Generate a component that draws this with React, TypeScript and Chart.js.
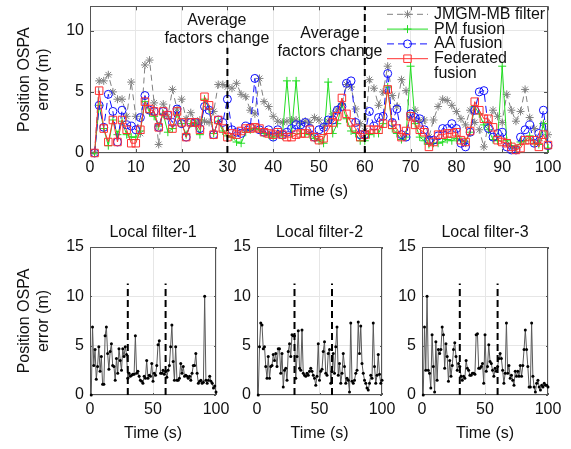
import React, { useEffect, useRef } from 'react';
import { Chart, registerables } from 'chart.js';
import { drawPoint } from 'chart.js/helpers';

Chart.register(...registerables);

// ---------------- data ----------------
const jmgm = [
  0, 5.9, 5.9, 6.4, 5.0, 4.4, 4.4, 3.0, 5.8, 3.0,
  1.6, 7.2, 7.6, 4.1, 0.7, 4.0, 3.0, 5.2, 3.6, 4.4,
  2.8, 3.3, 2.5, 2.7, 2.6, 2.5, 3.4, 5.6, 5.6, 5.4,
  5.3, 5.7, 4.8, 4.6, 3.5, 3.2, 6.1, 4.2, 3.8, 3.0,
  2.6, 2.5, 2.6, 2.7, 2.7, 2.4, 2.6, 2.5, 2.9, 2.7,
  2.2, 2.6, 3.2, 3.6, 4.0, 5.6, 5.4, 3.6, 2.4, 1.8,
  6.0, 5.3, 3.9, 5.0, 7.1, 4.7, 3.8, 6.0, 5.1, 3.0,
  3.5, 2.6, 2.7, 1.3, 2.7, 3.8, 4.4, 4.3, 3.9, 3.4,
  2.8, 2.3, 3.5, 2.5, 1.9, 0.5, 2.4, 3.5, 3.0, 2.5,
  4.8, 3.5, 2.6, 3.4, 5.2, 2.9, 2.0, 1.0, 2.4, 1.5,
];
const pmFusion = [
  0, 3.9, 2.0, 0.6, 2.7, 1.5, 2.6, 1.5, 1.3, 1.3,
  1.8, 4.2, 3.3, 3.0, 2.2, 3.2, 1.7, 2.0, 3.2, 2.4,
  1.5, 2.4, 2.4, 1.5, 4.4, 3.6, 1.6, 2.6, 1.8, 1.4,
  1.3, 0.9, 0.8, 1.7, 1.9, 2.0, 1.9, 1.6, 1.5, 1.3,
  1.6, 1.4, 5.9, 1.6, 5.9, 1.6, 1.6, 1.5, 1.2, 1.0,
  0.8, 5.8, 1.6, 2.4, 4.0, 2.8, 1.8, 1.6, 1.0, 1.0,
  1.5, 1.6, 1.6, 2.4, 5.4, 2.0, 1.6, 1.1, 1.3, 7.1,
  2.4, 1.3, 1.0, 0.7, 0.8, 0.8, 0.9, 1.1, 1.0, 1.2,
  1.0, 0.9, 1.7, 3.8, 3.2, 2.3, 1.9, 1.1, 1.0, 7.1,
  1.0, 0.6, 0.4, 0.9, 1.0, 1.4, 0.8, 0.7, 2.4, 0.4,
];
const aaFusion = [
  0, 3.9, 2.1, 4.8, 3.4, 0.9, 3.5, 2.3, 2.2, 1.9,
  2.9, 4.7, 3.5, 3.4, 2.1, 3.4, 3.1, 2.5, 3.6, 2.4,
  1.3, 2.5, 2.5, 2.0, 3.8, 3.5, 1.5, 2.7, 2.5, 4.4,
  1.9, 1.7, 1.6, 2.2, 2.1, 6.1, 1.9, 1.7, 1.9, 1.3,
  1.9, 1.5, 1.7, 2.0, 2.3, 2.3, 2.5, 2.0, 1.3, 1.9,
  2.1, 2.7, 2.7, 3.5, 3.8, 5.7, 5.9, 2.5, 1.5, 1.5,
  3.4, 2.2, 2.9, 3.0, 6.5, 2.5, 3.6, 1.5, 1.3, 3.2,
  2.9, 2.8, 1.9, 1.05, 1.05, 1.4, 2.0, 2.0, 2.4, 2.0,
  0.8, 0.5, 1.7, 3.5, 5.0, 5.1, 2.0, 1.3, 1.6, 1.7,
  0.5, 0.25, 0.25, 1.3, 1.9, 2.3, 0.8, 1.6, 3.5, 0.6,
];
const fedFusion = [
  0, 5.1, 2.0, 0.9, 2.7, 0.9, 2.7, 1.9, 0.8, 0.8,
  1.9, 4.2, 3.6, 3.4, 2.1, 3.4, 3.1, 2.0, 3.4, 2.5,
  1.3, 2.5, 2.5, 1.9, 4.6, 3.9, 1.5, 2.7, 2.0, 1.3,
  1.6, 1.5, 1.8, 2.0, 2.0, 2.1, 2.0, 1.7, 1.6, 1.5,
  1.7, 1.5, 1.3, 1.3, 1.5, 1.6, 1.6, 1.9, 1.3, 1.05,
  1.2, 1.9, 2.5, 3.0, 4.5, 3.2, 2.5, 2.0, 1.3, 1.5,
  1.9, 1.9, 1.9, 2.4, 5.2, 2.3, 2.0, 1.3, 1.8, 3.0,
  2.3, 1.9, 1.7, 0.5, 0.9, 1.5, 1.5, 1.6, 1.6, 1.7,
  1.05, 0.9, 1.8, 4.2, 3.5, 2.8, 2.8, 2.1, 1.05, 0.9,
  0.8, 0.5, 0.25, 0.4, 1.05, 1.05, 1.05, 0.5, 1.5, 0.65,
];
const local1 = [
  0, 6.9, 3.0, 4.6, 1.6, 2.9, 4.9, 2.4, 3.9, 1.1,
  1.1, 6.0, 6.9, 4.2, 2.6, 4.4, 5.2, 3.0, 2.9, 1.5,
  3.7, 2.2, 4.7, 3.5, 2.5, 4.7, 3.9, 4.9, 4.1, 1.7,
  2.2, 1.9, 2.0, 2.1, 2.1, 6.0, 2.2, 2.4, 1.9, 1.5,
  1.4, 1.2, 1.9, 1.7, 3.5, 1.7, 2.0, 1.9, 3.2, 1.4,
  2.2, 2.0, 3.0, 5.1, 5.5, 2.2, 2.2, 2.5, 2.1, 2.4,
  1.8, 2.5, 3.0, 4.9, 7.1, 3.4, 1.5, 4.9, 1.5, 1.5,
  1.7, 3.2, 2.2, 2.9, 1.9, 2.0, 1.9, 1.7, 1.9, 1.5,
  2.2, 3.0, 3.0, 4.2, 2.2, 1.2, 1.4, 1.5, 1.2, 1.3,
  10.0, 1.5, 1.2, 1.5, 1.9, 1.4, 1.2, 0.7, 0.9, 0.3,
];
const local2 = [
  0, 4.9, 7.3, 7.1, 4.7, 4.9, 2.9, 1.7, 3.9, 1.7,
  2.9, 3.0, 4.1, 3.5, 4.2, 2.9, 4.7, 4.7, 2.2, 4.2,
  0.8, 2.5, 2.7, 1.5, 4.4, 5.2, 3.9, 6.1, 6.0, 6.0,
  1.7, 3.9, 6.5, 2.7, 2.5, 6.6, 2.2, 2.0, 1.9, 2.2,
  2.0, 2.4, 2.7, 2.4, 2.0, 1.7, 1.0, 1.9, 5.2, 1.5,
  2.4, 2.6, 4.4, 5.4, 2.2, 2.0, 4.2, 4.6, 1.2, 2.4,
  4.2, 2.2, 4.9, 6.9, 2.0, 3.2, 1.2, 2.2, 4.2, 2.9,
  1.2, 1.7, 1.5, 0.3, 7.3, 1.4, 1.2, 1.5, 2.2, 2.5,
  7.4, 4.2, 7.0, 3.2, 2.2, 1.5, 1.2, 0.7, 0.5, 1.2,
  2.0, 1.7, 7.3, 2.9, 1.2, 2.0, 4.1, 2.1, 1.2, 1.5,
];
const local3 = [
  0, 6.9, 2.5, 10.0, 2.5, 2.2, 0.7, 6.1, 2.9, 0.3,
  5.4, 1.5, 4.6, 4.2, 4.6, 6.9, 6.1, 2.7, 5.2, 3.9,
  1.4, 3.5, 1.9, 3.0, 4.6, 5.3, 3.9, 2.5, 3.2, 2.9,
  1.9, 1.5, 1.9, 1.7, 3.5, 2.7, 2.5, 2.0, 2.0, 2.2,
  2.2, 2.1, 6.1, 6.2, 2.7, 2.7, 2.9, 3.2, 1.2, 6.1,
  2.4, 2.9, 5.1, 3.4, 3.2, 2.5, 1.9, 2.7, 2.4, 2.9,
  3.7, 4.2, 3.7, 2.5, 1.2, 2.2, 7.3, 2.2, 3.0, 1.7,
  2.0, 1.5, 1.0, 2.4, 1.9, 2.4, 1.9, 3.0, 1.9, 3.0,
  4.6, 6.6, 4.6, 2.9, 0.8, 0.8, 7.3, 1.9, 0.8, 0.3,
  1.2, 1.5, 0.8, 0.5, 1.0, 0.8, 1.2, 1.0, 1.0, 0.8,
];
const localSeries = [local1, local2, local3];

const topXTicks = [0, 10, 20, 30, 40, 50, 60, 70, 80, 90, 100];
const topYTicks = [0, 5, 10];
const localXTicks = [0, 50, 100];
const localYTicks = [0, 5, 10, 15];
const changeTimes = [30, 60];
const topChangeTops = [8.6, 12];
const localChangeTop = 11.3;

const legendLabels = [['JMGM-MB filter'], ['PM fusion'], ['AA fusion'], ['Federated', 'fusion']];
const annotationLines = ['Average', 'factors change'];
const localTitles = ['Local filter-1', 'Local filter-2', 'Local filter-3'];
const yTitle = ['Position OSPA', 'error (m)'];
const xTitle = 'Time (s)';

// ---------------- styling ----------------
const FONT_FAMILY = '"Liberation Sans", Arial, Helvetica, sans-serif';
const font16 = { family: FONT_FAMILY, size: 16, lineHeight: 1.2, weight: 'normal' };
const GRID = '#e6e6e6';
const TEXT = '#111111';
const BOX = '#555555';

const fixedTicks = (values: number[]) => (scale: any) => {
  scale.ticks = values.map((v) => ({ value: v }));
};
const pts = (arr: number[]) => arr.map((v, i) => ({ x: i + 1, y: v }));

const boxPlugin = {
  id: 'mbox',
  beforeDatasetsDraw(chart: any, _a: any, opts: any) {
    const { ctx, chartArea } = chart;
    const { left, right, top, bottom } = chartArea;
    const xs = chart.scales.x;
    const ys = chart.scales.y;
    const len = opts.tickLen || 3;
    ctx.save();
    ctx.strokeStyle = BOX;
    ctx.lineWidth = 1;
    ctx.setLineDash([]);
    ctx.strokeRect(Math.round(left) + 0.5, Math.round(top) + 0.5, Math.round(right - left) - 1, Math.round(bottom - top) - 1);
    ctx.beginPath();
    xs.ticks.forEach((t: any) => {
      const px = Math.round(xs.getPixelForValue(t.value)) + 0.5;
      ctx.moveTo(px, bottom);
      ctx.lineTo(px, bottom - len);
      ctx.moveTo(px, top);
      ctx.lineTo(px, top + len);
    });
    ys.ticks.forEach((t: any) => {
      const py = Math.round(ys.getPixelForValue(t.value)) + 0.5;
      ctx.moveTo(left, py);
      ctx.lineTo(left + len, py);
      ctx.moveTo(right, py);
      ctx.lineTo(right - len, py);
    });
    ctx.stroke();
    ctx.restore();
  },
};

const legendPlugin = {
  id: 'mlegend',
  afterDraw(chart: any) {
    const { ctx, chartArea } = chart;
    const x0 = chartArea.right - 161;
    const lineLen = 41;
    const textX = x0 + 47;
    const rowH = 14.8;
    let rowY = chartArea.top + 8;
    ctx.save();
    ctx.font = `16px ${FONT_FAMILY}`;
    ctx.textBaseline = 'middle';
    ctx.textAlign = 'left';
    legendLabels.forEach((lines, i) => {
      const ds = chart.data.datasets[i];
      ctx.strokeStyle = ds.borderColor;
      ctx.lineWidth = ds.borderWidth;
      ctx.setLineDash(ds.borderDash || []);
      ctx.beginPath();
      ctx.moveTo(x0, rowY);
      ctx.lineTo(x0 + lineLen, rowY);
      ctx.stroke();
      ctx.setLineDash([]);
      ctx.fillStyle = 'rgba(0,0,0,0)';
      ctx.strokeStyle = ds.pointBorderColor;
      ctx.lineWidth = 1;
      drawPoint(ctx, { pointStyle: ds.pointStyle, radius: ds.pointRadius, borderWidth: 1, rotation: 0 } as any, x0 + lineLen / 2, rowY);
      ctx.fillStyle = TEXT;
      lines.forEach((txt) => {
        ctx.fillText(txt, textX, rowY);
        rowY += rowH;
      });
    });
    ctx.restore();
  },
};

const annotationPlugin = {
  id: 'mannot',
  afterDatasetsDraw(chart: any, _a: any, opts: any) {
    const { ctx } = chart;
    const xs = chart.scales.x;
    const ys = chart.scales.y;
    ctx.save();
    ctx.font = `16px ${FONT_FAMILY}`;
    ctx.fillStyle = TEXT;
    ctx.textAlign = 'center';
    ctx.textBaseline = 'middle';
    (opts.anchors || []).forEach((a: any) => {
      const px = xs.getPixelForValue(a.x);
      const py = ys.getPixelForValue(a.y);
      annotationLines.forEach((line, k) => ctx.fillText(line, px, py + k * 18));
    });
    ctx.restore();
  },
};

const seriesStyle = (color: string, dash: number[], style: string, r: number, order: number) => ({
  borderColor: color,
  borderWidth: 1,
  borderDash: dash,
  pointStyle: style,
  pointRadius: r,
  pointBorderColor: color,
  pointBackgroundColor: 'rgba(0,0,0,0)',
  pointBorderWidth: 1,
  tension: 0,
  clip: false,
  order,
});

const changeLine = (t: number, topVal: number) => ({
  data: [{ x: t, y: 0 }, { x: t, y: topVal }],
  borderColor: '#000000',
  borderWidth: 2,
  borderDash: [7, 4],
  pointRadius: 0,
  clip: false,
  order: 0,
});

const noLabelPadding = (s: any) => {
  s.paddingTop = 0;
  s.paddingBottom = 0;
};

function topConfig(): any {
  return {
    type: 'line',
    data: {
      datasets: [
        { label: legendLabels[0].join(' '), data: pts(jmgm), ...seriesStyle('#808080', [6, 4], 'star', 4, 4) },
        { label: legendLabels[1].join(' '), data: pts(pmFusion), ...seriesStyle('#22dd22', [], 'cross', 4, 3) },
        { label: legendLabels[2].join(' '), data: pts(aaFusion), ...seriesStyle('#1010ff', [7, 4], 'circle', 4, 2) },
        { label: legendLabels[3].join(' '), data: pts(fedFusion), ...seriesStyle('#ff3030', [], 'rect', 5.3, 1) },
        ...changeTimes.map((t, i) => changeLine(t, topChangeTops[i])),
      ],
    },
    options: {
      animation: false,
      responsive: false,
      devicePixelRatio: 1,
      events: [],
      layout: { padding: { top: 5, right: 23, left: 0, bottom: 0 } },
      plugins: {
        legend: { display: false },
        tooltip: { enabled: false },
        mbox: { tickLen: 4 },
        mannot: { anchors: [{ x: 27.7, y: 10.8 }, { x: 52.4, y: 9.8 }] },
      },
      scales: {
        x: {
          type: 'linear', min: 0, max: 100,
          afterBuildTicks: fixedTicks(topXTicks),
          afterFit: (s: any) => { s.height = 57; },
          grid: { color: GRID, drawTicks: false },
          border: { display: false },
          ticks: { padding: 5, font: font16, color: TEXT, maxRotation: 0, autoSkip: false },
          title: { display: true, text: xTitle, font: font16, color: TEXT, padding: { top: 0, bottom: 9 } },
        },
        y: {
          type: 'linear', min: 0, max: 12,
          afterBuildTicks: fixedTicks(topYTicks),
          afterFit: (s: any) => { s.width = 90; noLabelPadding(s); },
          grid: { color: GRID, drawTicks: false },
          border: { display: false },
          ticks: { padding: 6, font: font16, color: TEXT },
          title: { display: true, text: yTitle, font: font16, color: TEXT, padding: { top: 15, bottom: 0 } },
        },
      },
    },
    plugins: [boxPlugin, legendPlugin, annotationPlugin],
  };
}

function localConfig(idx: number, withYTitle: boolean): any {
  return {
    type: 'line',
    data: {
      datasets: [
        {
          data: pts(localSeries[idx]),
          borderColor: '#595959',
          borderWidth: 1,
          pointRadius: 1.5,
          pointBorderWidth: 0,
          pointBackgroundColor: '#000000',
          tension: 0,
          clip: false,
          order: 1,
        },
        ...changeTimes.map((t) => changeLine(t, localChangeTop)),
      ],
    },
    options: {
      animation: false,
      responsive: false,
      devicePixelRatio: 1,
      events: [],
      layout: { padding: { top: 0, right: 20, left: 0, bottom: 0 } },
      plugins: {
        legend: { display: false },
        tooltip: { enabled: false },
        title: { display: true, fullSize: false, text: localTitles[idx], font: font16, color: TEXT, padding: { top: 13.4, bottom: 4.4 } },
        mbox: { tickLen: 2 },
      },
      scales: {
        x: {
          type: 'linear', min: 0, max: 100,
          afterBuildTicks: fixedTicks(localXTicks),
          afterFit: (s: any) => { s.height = 54; },
          grid: { color: GRID, drawTicks: false },
          border: { display: false },
          ticks: { padding: 5, font: font16, color: TEXT, maxRotation: 0, autoSkip: false },
          title: { display: true, text: xTitle, font: font16, color: TEXT, padding: { top: 0, bottom: 6 } },
        },
        y: {
          type: 'linear', min: 0, max: 15,
          afterBuildTicks: fixedTicks(localYTicks),
          afterFit: (s: any) => { s.width = withYTitle ? 90 : 40; },
          grid: { color: GRID, drawTicks: false },
          border: { display: false },
          ticks: { padding: 6, font: font16, color: TEXT },
          title: { display: withYTitle, text: yTitle, font: font16, color: TEXT, padding: { top: 15, bottom: 0 } },
        },
      },
    },
    plugins: [boxPlugin],
  };
}

function ChartCanvas(props: { left: number; top: number; width: number; height: number; make: () => any }) {
  const ref = useRef<HTMLCanvasElement | null>(null);
  useEffect(() => {
    if (!ref.current) return;
    const chart = new Chart(ref.current, props.make());
    return () => chart.destroy();
  }, []);
  return (
    <canvas
      ref={ref}
      width={props.width}
      height={props.height}
      style={{ position: 'absolute', left: props.left, top: props.top, width: props.width, height: props.height }}
    />
  );
}

export default function App() {
  return (
    <div style={{ position: 'fixed', left: 0, top: 0, width: 571, height: 449, background: '#ffffff', overflow: 'hidden' }}>
      <ChartCanvas left={0} top={0} width={571} height={210} make={topConfig} />
      <ChartCanvas left={0} top={210} width={236} height={239} make={() => localConfig(0, true)} />
      <ChartCanvas left={217} top={210} width={185} height={239} make={() => localConfig(1, false)} />
      <ChartCanvas left={382} top={210} width={186} height={239} make={() => localConfig(2, false)} />
    </div>
  );
}
